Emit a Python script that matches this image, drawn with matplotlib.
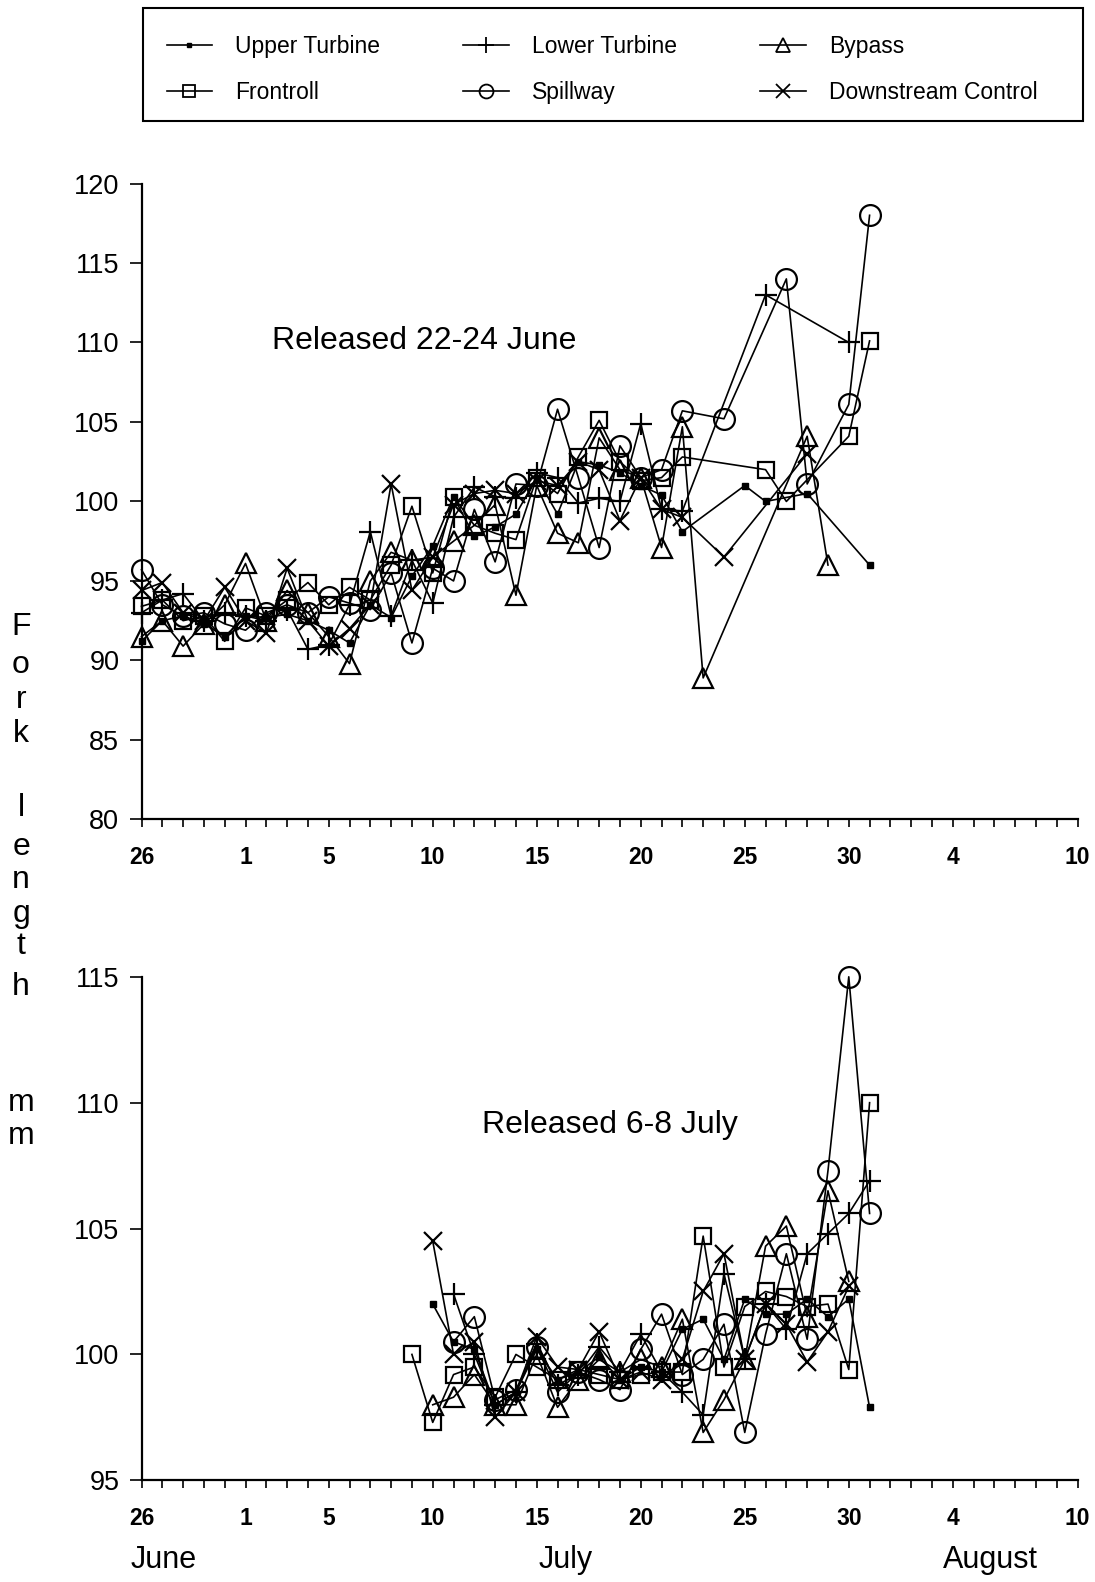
import matplotlib
matplotlib.use('Agg')
import matplotlib.pyplot as plt
from matplotlib.lines import Line2D
from matplotlib.patches import Rectangle

plt.rcParams['font.family'] = ['Liberation Sans', 'DejaVu Sans']

# ---------------- data (day 0 = 26 June) ----------------
series_names = ['Upper Turbine', 'Lower Turbine', 'Bypass',
                'Frontroll', 'Spillway', 'Downstream Control']

# Released 22-24 June
ut1_days = list(range(0, 27)) + [29, 30, 32, 35]
ut1_vals = [91.2, 92.5, 92.8, 92.3, 91.5, 92.8, 92.7, 92.9, 92.5, 91.9, 91.1, 93.5,
            92.7, 95.3, 97.2, 100.3, 97.8, 98.4, 99.2, 101.5, 99.2, 102.5, 102.3,
            101.8, 101.0, 100.4, 98.1, 101.0, 100.0, 100.5, 96.0]
lt1_days = list(range(0, 27)) + [30, 34]
lt1_vals = [93.0, 93.8, 94.2, 92.5, 93.0, 92.8, 92.5, 93.2, 90.7, 91.0, 93.5, 98.1,
            92.8, 96.3, 93.6, 99.0, 100.9, 100.3, 100.2, 101.8, 101.5, 99.9, 100.2,
            100.0, 104.9, 99.5, 99.4, 113.0, 110.0]
by1_days = list(range(0, 28)) + [32, 33]
by1_vals = [91.5, 92.5, 90.9, 92.3, 93.5, 96.1, 92.5, 94.4, 93.0, 91.5, 89.8, 95.0,
            96.8, 96.3, 96.5, 97.5, 98.5, 99.8, 94.1, 101.0, 98.0, 97.4, 104.0,
            102.0, 101.5, 97.1, 104.7, 88.9, 104.1, 96.0]
fr1_days = list(range(0, 27)) + [30, 31, 34, 35]
fr1_vals = [93.4, 93.8, 92.5, 92.8, 91.2, 93.3, 92.8, 93.8, 94.9, 93.5, 94.6, 93.8,
            96.0, 99.7, 95.5, 100.3, 98.5, 98.0, 97.6, 101.5, 100.5, 102.8, 105.1,
            102.5, 101.3, 101.5, 102.8, 102.0, 100.0, 104.1, 110.1]
sp1_days = list(range(0, 27)) + [28, 31, 32, 34, 35]
sp1_vals = [95.7, 93.5, 92.8, 93.0, 92.3, 91.9, 93.0, 93.5, 93.0, 94.0, 93.6, 93.2,
            95.5, 91.1, 95.8, 95.0, 99.5, 96.2, 101.1, 101.0, 105.8, 101.5, 97.1,
            103.5, 101.5, 102.0, 105.7, 105.2, 114.0, 101.1, 106.1, 118.0]
dc1_days = list(range(0, 27)) + [28, 32]
dc1_vals = [94.4, 94.9, 93.0, 92.5, 94.6, 92.5, 91.7, 95.8, 92.5, 90.9, 92.0, 93.5,
            101.1, 94.4, 96.5, 99.8, 100.5, 100.7, 100.5, 101.3, 101.0, 102.5, 102.0,
            98.8, 101.5, 99.5, 99.0, 96.5, 103.0]

# Released 6-8 July
ut2_days = list(range(14, 36))
ut2_vals = [102.0, 100.5, 100.2, 98.0, 98.5, 100.2, 99.0, 99.3, 99.9, 99.0, 99.5,
            99.3, 101.0, 101.4, 99.8, 102.2, 101.6, 101.6, 102.2, 101.5, 102.2, 97.9]
lt2_days = list(range(15, 36))
lt2_vals = [102.4, 100.0, 98.0, 98.5, 100.4, 98.8, 99.2, 100.3, 99.3, 100.8, 99.3,
            98.5, 97.6, 103.2, 99.8, 102.0, 101.0, 104.0, 104.8, 105.6, 106.9]
by2_days = list(range(14, 35))
by2_vals = [98.0, 98.3, 99.2, 98.0, 98.0, 100.0, 97.9, 99.0, 99.8, 99.3, 99.8,
            99.5, 101.4, 96.9, 98.2, 99.8, 104.3, 105.1, 101.5, 106.5, 102.9]
fr2_days = list(range(13, 36))
fr2_vals = [100.0, 97.3, 99.2, 99.5, 98.3, 100.0, 99.5, 99.0, 99.4, 99.2, 99.0,
            99.2, 99.3, 99.3, 104.7, 99.5, 101.9, 102.5, 102.3, 101.9, 102.0, 99.4, 110.0]
sp2_days = list(range(15, 36))
sp2_vals = [100.5, 101.5, 98.2, 98.6, 100.3, 98.5, 99.3, 99.0, 98.6, 100.2, 101.6,
            99.2, 99.8, 101.2, 96.9, 100.8, 104.0, 100.6, 107.3, 115.0, 105.6]
dc2_days = list(range(14, 35))
dc2_vals = [104.5, 100.0, 100.5, 97.5, 98.5, 100.7, 99.5, 99.4, 100.9, 99.0, 99.3,
            99.0, 99.8, 102.5, 104.0, 99.8, 102.0, 101.2, 99.7, 100.9, 102.7]

tick_days = list(range(0, 46))
label_days = [0, 5, 9, 14, 19, 24, 29, 34, 39, 45]
label_texts = ['26', '1', '5', '10', '15', '20', '25', '30', '4', '10']
month_labels = ['June', 'July', 'August']

panel1 = [(ut1_days, ut1_vals), (lt1_days, lt1_vals), (by1_days, by1_vals),
          (fr1_days, fr1_vals), (sp1_days, sp1_vals), (dc1_days, dc1_vals)]
panel2 = [(ut2_days, ut2_vals), (lt2_days, lt2_vals), (by2_days, by2_vals),
          (fr2_days, fr2_vals), (sp2_days, sp2_vals), (dc2_days, dc2_vals)]

# ---------------- styles ----------------
plot_style = {
    'Upper Turbine': dict(marker='s', ms=4.5, mfc='black', mec='black', mew=1.0),
    'Lower Turbine': dict(marker='+', ms=16, mew=1.6),
    'Bypass': dict(marker='^', ms=14, mfc='none', mew=1.6),
    'Frontroll': dict(marker='s', ms=12, mfc='none', mew=1.6),
    'Spillway': dict(marker='o', ms=15, mfc='none', mew=1.6),
    'Downstream Control': dict(marker='x', ms=13, mew=1.6),
}
legend_style = {
    'Upper Turbine': dict(marker='s', ms=3.5, mfc='black', mec='black', mew=1.0),
    'Lower Turbine': dict(marker='+', ms=11, mew=1.3),
    'Bypass': dict(marker='^', ms=10, mfc='none', mew=1.3),
    'Frontroll': dict(marker='s', ms=8, mfc='none', mew=1.3),
    'Spillway': dict(marker='o', ms=10, mfc='none', mew=1.3),
    'Downstream Control': dict(marker='x', ms=10, mew=1.3),
}

W, H = 1095, 1582
fig = plt.figure(figsize=(W / 100, H / 100), dpi=100)


def fx(px):
    return px / W


def fy(py):
    return 1 - py / H


left_px, right_px = 141.5, 1077.6
ax1 = fig.add_axes([fx(left_px), fy(819.4), fx(right_px - left_px), (819.4 - 183.5) / H])
ax2 = fig.add_axes([fx(left_px), fy(1480.3), fx(right_px - left_px), (1480.3 - 976.8) / H])


def draw_panel(ax, data, ylim, yticks):
    for name, (d, v) in zip(series_names, data):
        ax.plot(d, v, color='black', lw=1.2, clip_on=False, **plot_style[name])
    ax.set_xlim(0, 45)
    ax.set_ylim(*ylim)
    ax.set_yticks(yticks)
    ax.set_yticklabels([str(t) for t in yticks])
    ax.set_xticks(tick_days)
    ax.set_xticklabels([label_texts[label_days.index(d)] if d in label_days else ''
                        for d in tick_days], fontweight='bold')
    for s in ['top', 'right']:
        ax.spines[s].set_visible(False)
    for s in ['left', 'bottom']:
        ax.spines[s].set_linewidth(1.6)
    ax.tick_params(axis='x', direction='out', length=6, width=1.2, pad=13, labelsize=16.5)
    ax.tick_params(axis='y', direction='out', length=9, width=1.2, pad=7, labelsize=19.5)


draw_panel(ax1, panel1, (80, 120), list(range(80, 121, 5)))
draw_panel(ax2, panel2, (95, 115), list(range(95, 116, 5)))

ax1.text(13.6, 109.6, 'Released 22-24 June', fontsize=23, ha='center', va='baseline')
ax2.text(22.5, 108.8, 'Released 6-8 July', fontsize=23, ha='center', va='baseline')

# month labels
for txt, xpx in zip(month_labels, [164, 566, 990]):
    fig.text(fx(xpx), fy(1568), txt, fontsize=22, ha='center', va='baseline')

# vertical y-axis label, one letter per line
letters = ['F', 'o', 'r', 'k', 'l', 'e', 'n', 'g', 't', 'h', 'm', 'm']
letter_y = [627, 665, 700, 734, 808, 847, 880, 914, 946, 987, 1103, 1136]
for ch, ypx in zip(letters, letter_y):
    fig.text(fx(21), fy(ypx), ch, fontsize=23, ha='center', va='center')

# legend
handles = [Line2D([], [], color='black', lw=1.2, **legend_style[n]) for n in series_names]
order = [0, 3, 1, 4, 2, 5]
fig.legend([handles[i] for i in order], [series_names[i] for i in order],
           ncol=3, loc='upper left', bbox_to_anchor=(fx(166.5), fy(35)),
           frameon=False, borderpad=0, borderaxespad=0, fontsize=16.5,
           handlelength=2.0, handletextpad=1.0, columnspacing=3.62,
           labelspacing=1.0)
fig.add_artist(Rectangle((fx(143.3), fy(121.1)), fx(1082.8 - 143.3), (121.1 - 8.1) / H,
                         transform=fig.transFigure, fill=False, lw=1.5, ec='black'))

fig.savefig('out.png', dpi=100)
